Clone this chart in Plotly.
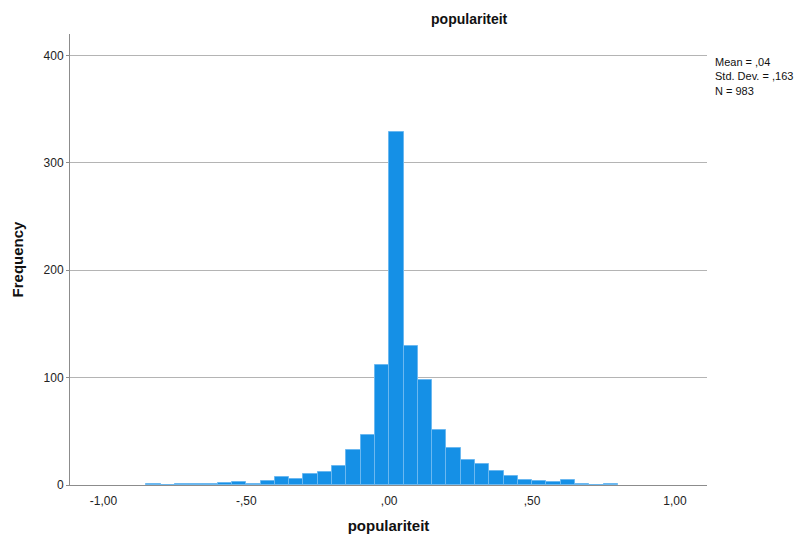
import plotly.graph_objects as go

# Histogram of "populariteit": bin counts, bins of width 0,05 starting at -0,85
bin_start = -0.85
bin_width = 0.05
counts = [1, 0, 1, 1, 1, 2, 3, 1, 4, 7, 6, 10, 12, 18, 33, 47,
          112, 329, 129, 98, 51, 34, 23, 20, 13, 8, 5, 4, 3, 5, 1, 0, 1]

x_tick_vals = [-1.0, -0.5, 0.0, 0.5, 1.0]
x_tick_text = ["-1,00", "-,50", ",00", ",50", "1,00"]
y_tick_vals = [0, 100, 200, 300, 400]

stats_lines = ["Mean = ,04", "Std. Dev. = ,163", "N = 983"]

centers = [bin_start + (i + 0.5) * bin_width for i in range(len(counts))]

FONT = "Liberation Sans, Arial, sans-serif"

fig = go.Figure()
fig.add_trace(go.Bar(
    x=centers,
    y=counts,
    width=[bin_width] * len(counts),
    marker=dict(color="#1590e6", line=dict(color="#6bb8f0", width=1)),
    hoverinfo="x+y",
))

fig.update_layout(
    width=802, height=543,
    margin=dict(l=70, r=95, t=34, b=58),
    paper_bgcolor="white", plot_bgcolor="white",
    showlegend=False,
    bargap=0,
    font=dict(family=FONT, size=12, color="#222222"),
    title=dict(text="<b>populariteit</b>", x=0.585, xanchor="center",
               y=0.965, yanchor="middle",
               font=dict(family=FONT, size=14, color="#111111")),
)

fig.update_xaxes(
    range=[-1.117, 1.112],
    tickvals=x_tick_vals, ticktext=x_tick_text,
    showgrid=False, zeroline=False,
    showline=True, linecolor="#8c8c8c", linewidth=1,
    ticks="", ticklabelstandoff=5,
    tickfont=dict(family=FONT, size=12, color="#222222"),
    title=dict(text="<b>populariteit</b>", standoff=13,
               font=dict(family=FONT, size=15, color="#111111")),
)

fig.update_yaxes(
    range=[0, 420],
    tickvals=y_tick_vals,
    showgrid=True, gridcolor="#b4b4b4", gridwidth=1,
    zeroline=False,
    showline=True, linecolor="#8c8c8c", linewidth=1,
    ticks="outside", ticklen=3, tickcolor="#8c8c8c",
    tickfont=dict(family=FONT, size=12, color="#222222"),
    title=dict(text="<b>Frequency</b>", standoff=16,
               font=dict(family=FONT, size=15, color="#111111")),
)

fig.add_annotation(
    text="<br>".join(stats_lines),
    xref="paper", yref="paper",
    x=1.0, y=1.0,
    xshift=6, yshift=-20,
    xanchor="left", yanchor="top",
    align="left", showarrow=False,
    font=dict(family=FONT, size=11, color="#111111"),
)

fig.write_html("out.html")
